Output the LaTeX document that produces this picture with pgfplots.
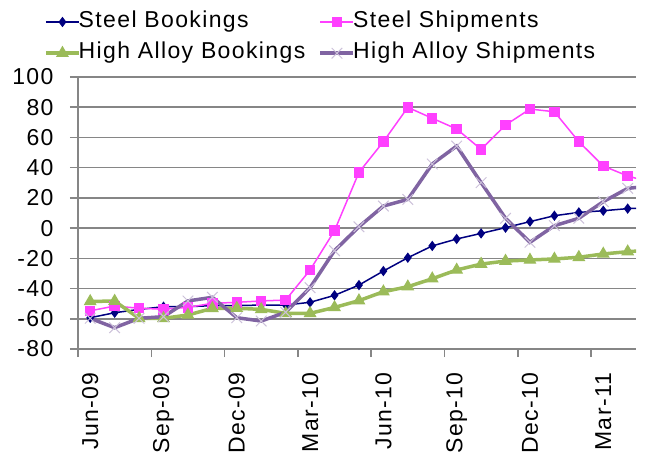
\documentclass[border=0pt]{standalone}
\usepackage{fontspec}
\setmainfont{Liberation Sans}[LetterSpace=6]
\usepackage{pgfplots}
\usepackage{pgfplotstable}
\pgfplotsset{compat=1.18}

\definecolor{sbook}{HTML}{000080}
\definecolor{sship}{HTML}{FF40FF}
\definecolor{hbook}{HTML}{9BBB59}
\definecolor{hship}{HTML}{8064A2}
\definecolor{hmark}{HTML}{CCC1DA}
\definecolor{gridgray}{HTML}{868686}

% month index (0 = Jun-09)
\pgfplotstableread{
m   sb     ss     hab    has
0   -59.3  -54.7  -48.5  -59.7
1   -56.0  -51.6  -48.3  -65.9
2   -53.8  -53.0  -59.7  -59.7
3   -52.0  -53.7  -59.7  -58.6
4   -52.0  -52.4  -57.5  -48.2
5   -51.3  -49.8  -53.1  -45.8
6   -51.3  -49.1  -53.0  -59.3
7   -50.9  -48.2  -53.8  -61.5
8   -50.9  -47.6  -56.4  -55.7
9   -49.1  -27.7  -56.4  -39.4
10  -44.5  -1.7   -52.5  -14.9
11  -37.7  36.9   -48.0  0.9
12  -28.4  57.2   -42.1  14.6
13  -19.6  79.9   -38.8  19.0
14  -11.8  72.7   -33.5  42.4
15  -7.2   65.6   -27.7  54.3
16  -3.5   52.1   -23.8  30.1
17  0.3    68.2   -21.8  6.5
18  4.3    78.8   -21.1  -9.4
19  8.2    77.0   -20.4  1.6
20  10.4   57.2   -19.3  6.5
21  11.5   41.1   -17.1  17.5
22  12.9   34.5   -15.6  26.3
23  13.5   30.0   -14.5  28.0
}\data

\begin{document}
\begin{tikzpicture}
\useasboundingbox (-78pt,-109pt) rectangle (571pt,349pt);
\begin{axis}[
  at={(0,0)}, anchor=south west,
  scale only axis, width=558pt, height=272pt,
  xmin=-0.5, xmax=22.34, ymin=-80, ymax=100,
  ytick={-80,-60,...,100},
  yticklabel style={xshift=-13pt},
  xtick={-0.5,2.5,...,20.5}, xticklabels={},
  extra x ticks={0,3,...,21},
  extra x tick labels={Jun-09,Sep-09,Dec-09,Mar-10,Jun-10,Sep-10,Dec-10,Mar-11},
  extra x tick style={major tick length=0pt, grid=none,
    tick label style={yshift=-20pt, rotate=90, anchor=east}},
  axis lines=left, axis line style={-, draw=gridgray, line width=1.5pt},
  ymajorgrids, grid style={gridgray, line width=1.5pt},
  tick style={gridgray, line width=1.5pt},
  tick align=outside, major tick length=8pt,
  /pgf/number format/assume math mode=true,
  tick label style={font=\fontsize{23}{23}\selectfont, black},
  legend columns=2,
  legend cell align=left,
  legend style={draw=none, fill=none, inner sep=0pt,
    at={(axis description cs:0,1)}, anchor=north west,
    xshift=-34pt, yshift=65.7pt,
    font=\fontsize{23}{23}\selectfont,
    row sep=10.2pt,
    nodes={inner sep=0pt, text height=16pt, text depth=5pt},
    /tikz/every odd column/.append style={column sep=-2pt}},
  legend image code/.code={\draw[mark repeat=2, mark phase=2, #1]
    plot coordinates {(0pt,0pt) (16.5pt,0pt) (33pt,0pt)};},
]
\addplot[sbook, line width=1.5pt, mark=diamond*, mark size=4pt] table[x=m, y=sb] {\data};
\addlegendentry{\makebox[240pt][l]{Steel Bookings}}
\addplot[sship, line width=1.5pt, mark=square*, mark size=4.5pt] table[x=m, y=ss] {\data};
\addlegendentry{Steel Shipments}
\addplot[hbook, line width=3.5pt, mark=triangle*, mark size=6.5pt, mark options={line width=1pt}] table[x=m, y=hab] {\data};
\addlegendentry{\makebox[240pt][l]{High Alloy Bookings}}
\addplot[hship, line width=3.5pt, mark=x, mark size=7.5pt, mark options={draw=hmark, line width=1pt}] table[x=m, y=has] {\data};
\addlegendentry{High Alloy Shipments}
\end{axis}
\end{tikzpicture}
\end{document}
